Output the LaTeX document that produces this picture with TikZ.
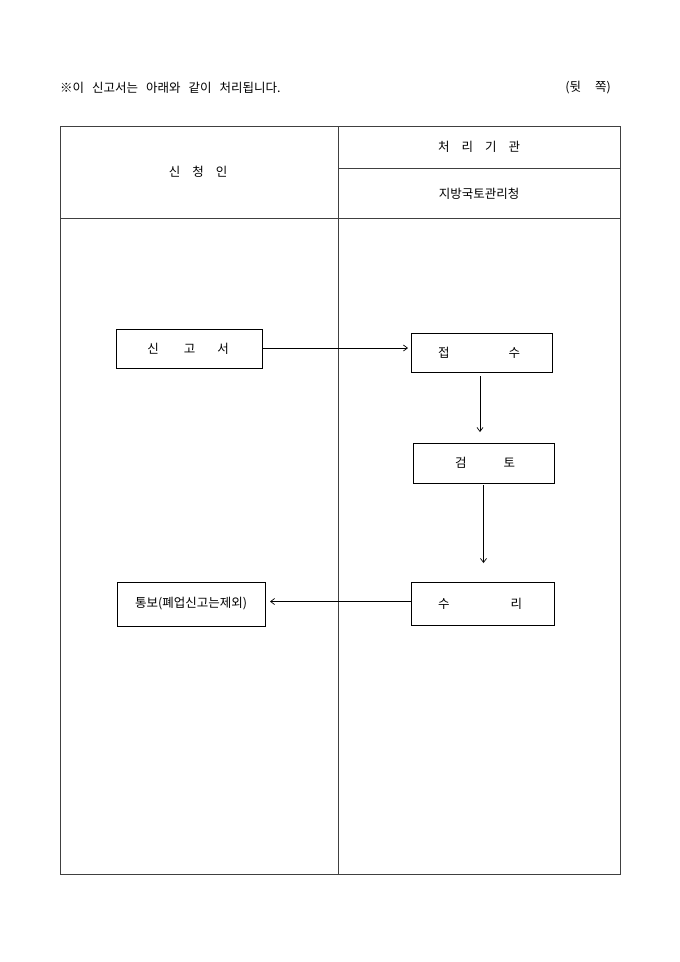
\documentclass[tikz,border=0pt]{standalone}
\usepackage{fontspec}
\setmainfont{Noto Sans CJK KR}
\usetikzlibrary{arrows.meta}
\begin{document}
\begin{tikzpicture}[x=1pt,y=-1pt,
  every node/.style={font=\fontsize{12.5}{14}\selectfont, inner sep=0pt},
  grid/.style={line width=0.9pt, draw=black!75},
  flowbox/.style={draw=black, line width=0.8pt, anchor=north west},
  flow/.style={line width=0.7pt, -{Straight Barb[length=4pt,width=6pt]}}]
\useasboundingbox (0,0) rectangle (680,962);
% top texts
\node[anchor=west] (title) at (60,88) {※이\hspace{8pt}신고서는\hspace{8pt}아래와\hspace{8pt}같이\hspace{8pt}처리됩니다.};
\node[anchor=east] (side) at (611,88) {(뒷\hspace{14pt}쪽)};
% table
\draw[grid] (60,126) rectangle (620,874);
\draw[grid] (338,126) -- (338,874);
\draw[grid] (60,218) -- (620,218);
\draw[grid] (338,168) -- (620,168);
\node (h1) at (198,172) {신\hspace{12pt}청\hspace{12pt}인};
\node (h2) at (479,147) {처\hspace{12pt}리\hspace{12pt}기\hspace{12pt}관};
\node (h3) at (479,194) {지방국토관리청};
% boxes
\draw[flowbox] (116,329) rectangle (262,368);
\node (b1) at (188,348.5) {신\hspace{25pt}고\hspace{22pt}서};
\draw[flowbox] (411,333) rectangle (552,372);
\node (b2) at (479,352.5) {접\hspace{59pt}수};
\draw[flowbox] (413,443) rectangle (554,483);
\node (b3) at (485,463) {검\hspace{37pt}토};
\draw[flowbox] (411,582) rectangle (554,625);
\node (b4) at (480,603.5) {수\hspace{61pt}리};
\draw[flowbox] (117,582) rectangle (265,626);
\node (b5) at (191,604) {통보(폐업신고는제외)};
% connectors
\coordinate (a1s) at (262,348);
\coordinate (a1e) at (408,348);
\coordinate (a2s) at (480,376);
\coordinate (a2e) at (480,432);
\coordinate (a3s) at (483.5,485);
\coordinate (a3e) at (483.5,563);
\coordinate (a4s) at (411,601.5);
\coordinate (a4e) at (270,601.5);
\draw[flow] (a1s) -- (a1e);
\draw[flow] (a2s) -- (a2e);
\draw[flow] (a3s) -- (a3e);
\draw[flow] (a4s) -- (a4e);
\end{tikzpicture}
\end{document}
